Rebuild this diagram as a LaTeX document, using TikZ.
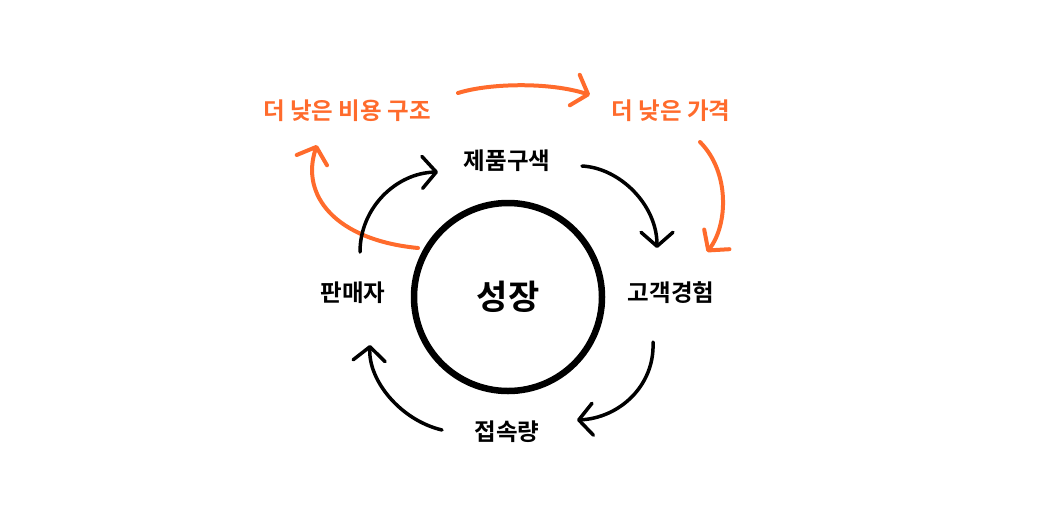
\documentclass[tikz,border=0pt]{standalone}
\usepackage{fontspec}
\setmainfont{Noto Sans CJK KR}[BoldFont={Noto Sans CJK KR Bold}]
\usepackage{tikz}
\usetikzlibrary{arrows.meta}
\definecolor{flame}{HTML}{FF6B2C}
\tikzset{
  % Open hand-drawn arrow tips
  >={Straight Barb[round, length=14pt, width=32pt]},
  % Common styles for the cycle
  term/.style={font=\bfseries\fontsize{23.5}{23.5}\selectfont, inner sep=0pt},
  hub/.style={draw, circle, line width=6.5pt, minimum size=188pt},
  loop/.style={draw, ->, line width=3.5pt, line cap=round},
  push/.style={draw, ->, flame, line width=4pt, line cap=round}
}

\begin{document}
\begin{tikzpicture}[x=1pt, y=-1pt]
    \useasboundingbox (0,0) rectangle (1060,523);

    % Place nodes
    \node [term] (assortment) at (507,161) {제품구색};
    \node [term] (experience) at (671,293) {고객경험};
    \node [term] (traffic) at (507,432) {접속량};
    \node [term] (sellers) at (353,293) {판매자};
    \node [term, text=flame] (lowcost) at (347,111) {더 낮은 비용 구조};
    \node [term, text=flame] (lowprice) at (671,111) {더 낮은 가격};

    % Arrow ends
    \coordinate (s1) at (360,252);  \coordinate (e1) at (438,172);
    \coordinate (s2) at (582,166);  \coordinate (e2) at (657,248);
    \coordinate (s3) at (653,342);  \coordinate (e3) at (577,420);
    \coordinate (s4) at (442,430);  \coordinate (e4) at (370,345);
    \coordinate (s5) at (458,93);   \coordinate (e5) at (590,95);
    \coordinate (s6) at (700,142);  \coordinate (e6) at (707,252);
    \coordinate (s7) at (418,248);  \coordinate (e7) at (317,145);

    % Draw edges
    \path [push] (s7) .. controls (335,240) and (300,195) .. (e7);
    \path [push] (s5) .. controls (490,83) and (550,82) .. (e5);
    \path [push] (s6) .. controls (730,172) and (728,225) .. (e6);

    \node [hub] (growth) at (508,297) {};
    \node [term, font=\bfseries\fontsize{34}{34}\selectfont] at (growth) {성장};

    \path [loop] (s1) .. controls (360,208) and (396,173) .. (e1);
    \path [loop] (s2) .. controls (620,168) and (657,205) .. (e2);
    \path [loop] (s3) .. controls (655,385) and (620,418) .. (e3);
    \path [loop] (s4) .. controls (400,420) and (368,380) .. (e4);

\end{tikzpicture}
\end{document}
